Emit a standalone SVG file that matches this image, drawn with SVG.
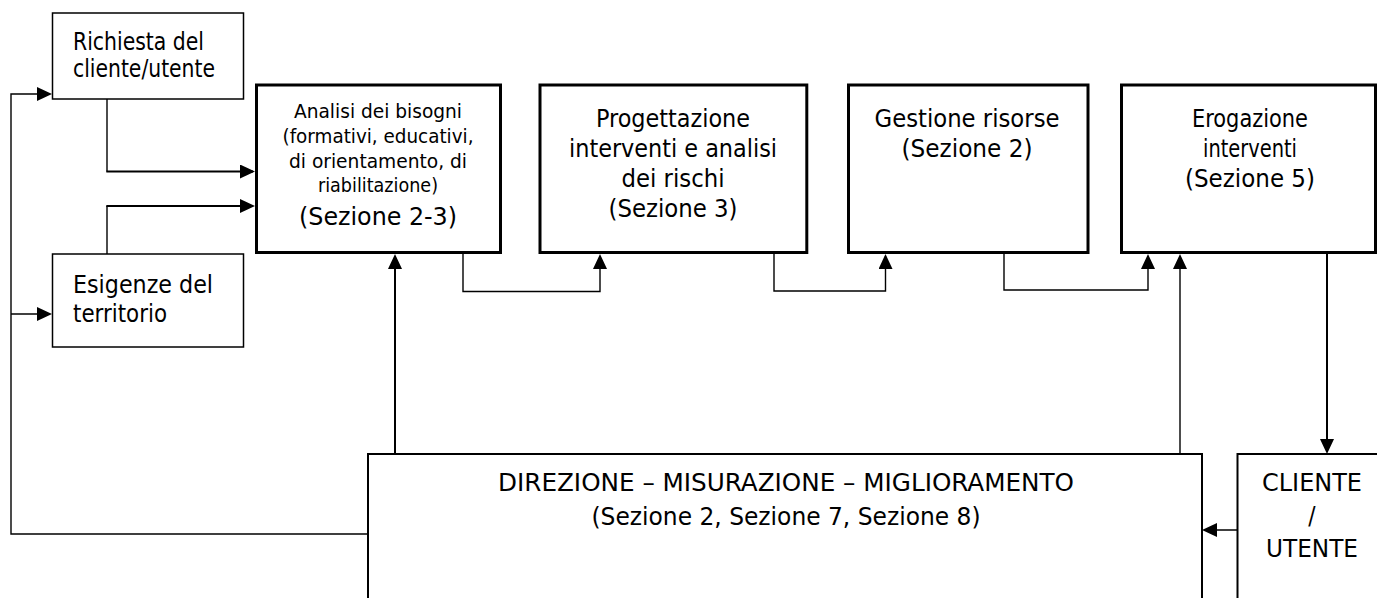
<svg xmlns="http://www.w3.org/2000/svg" width="1377" height="598" viewBox="0 0 1377 598">
<style>
  .bg{fill:#fff}
  .thin{fill:#fff;stroke:#000;stroke-width:1.5}
  .thick{fill:#fff;stroke:#000;stroke-width:3}
  .mid{fill:#fff;stroke:#000;stroke-width:2}
  .c{fill:none;stroke:#000;stroke-width:1.4}
  .c2{fill:none;stroke:#000;stroke-width:2}
  text{font-family:"DejaVu Sans Condensed","DejaVu Sans",sans-serif;font-stretch:condensed;fill:#000;font-size:24px}
  .m{text-anchor:middle}
  .s{font-size:20px}
</style>
<defs>
  <marker id="ah" viewBox="0 0 15 14" refX="13" refY="7" markerWidth="15" markerHeight="14" markerUnits="userSpaceOnUse" orient="auto">
    <path d="M0,0 L15,7 L0,14 z" fill="#000"/>
  </marker>
</defs>
<rect class="bg" x="0" y="0" width="1377" height="598"/>

<g id="connectors">
  <path class="c" d="M368,534 H11 V94 H50" marker-end="url(#ah)"/>
  <path class="c" d="M11,314 H50" marker-end="url(#ah)"/>
  <path class="c" d="M107,99 V171.5"/>
  <path class="c2" d="M106.3,171.5 H253" marker-end="url(#ah)"/>
  <path class="c" d="M107,254 V206"/>
  <path class="c2" d="M106.3,206 H253" marker-end="url(#ah)"/>
  <path class="c2" d="M395,454 V256" marker-end="url(#ah)"/>
  <path class="c" d="M463,254 V291.5 H600 V256" marker-end="url(#ah)"/>
  <path class="c" d="M774,254 V291 H885.5 V256" marker-end="url(#ah)"/>
  <path class="c" d="M1004,254 V290 H1148 V256" marker-end="url(#ah)"/>
  <path class="c" d="M1180,454 V256" marker-end="url(#ah)"/>
  <path class="c2" d="M1327,254 V452" marker-end="url(#ah)"/>
  <path class="c" d="M1237,530 H1204" marker-end="url(#ah)"/>
</g>

<g id="richiesta">
  <rect class="thin" x="52.5" y="13" width="191" height="86"/>
  <text x="73" y="50" textLength="131" lengthAdjust="spacingAndGlyphs">Richiesta del</text>
  <text x="73" y="77" textLength="142" lengthAdjust="spacingAndGlyphs">cliente/utente</text>
</g>

<g id="esigenze">
  <rect class="thin" x="52.5" y="254" width="191" height="93"/>
  <text x="73" y="293" textLength="140" lengthAdjust="spacingAndGlyphs">Esigenze del</text>
  <text x="73" y="322" textLength="94" lengthAdjust="spacingAndGlyphs">territorio</text>
</g>

<g id="analisi">
  <rect class="thick" x="256.5" y="85" width="244" height="167.5"/>
  <text class="m s" x="378" y="118" textLength="168" lengthAdjust="spacingAndGlyphs">Analisi dei bisogni</text>
  <text class="m s" x="378" y="143" textLength="191" lengthAdjust="spacingAndGlyphs">(formativi, educativi,</text>
  <text class="m s" x="378" y="168" textLength="178" lengthAdjust="spacingAndGlyphs">di orientamento, di</text>
  <text class="m s" x="378" y="192" textLength="120" lengthAdjust="spacingAndGlyphs">riabilitazione)</text>
  <text class="m" x="378" y="225" textLength="158" lengthAdjust="spacingAndGlyphs">(Sezione 2-3)</text>
</g>

<g id="progettazione">
  <rect class="thick" x="540" y="85" width="266.8" height="167.5"/>
  <text class="m" x="673" y="127" textLength="154" lengthAdjust="spacingAndGlyphs">Progettazione</text>
  <text class="m" x="673" y="157" textLength="208" lengthAdjust="spacingAndGlyphs">interventi e analisi</text>
  <text class="m" x="673" y="187" textLength="103" lengthAdjust="spacingAndGlyphs">dei rischi</text>
  <text class="m" x="673" y="217" textLength="129" lengthAdjust="spacingAndGlyphs">(Sezione 3)</text>
</g>

<g id="gestione">
  <rect class="thick" x="848.5" y="85" width="239.5" height="167.5"/>
  <text class="m" x="967" y="127" textLength="185" lengthAdjust="spacingAndGlyphs">Gestione risorse</text>
  <text class="m" x="967" y="157" textLength="131" lengthAdjust="spacingAndGlyphs">(Sezione 2)</text>
</g>

<g id="erogazione">
  <rect class="thick" x="1121.5" y="85" width="254" height="167.5"/>
  <text class="m" x="1250" y="127" textLength="116" lengthAdjust="spacingAndGlyphs">Erogazione</text>
  <text class="m" x="1250" y="157" textLength="94" lengthAdjust="spacingAndGlyphs">interventi</text>
  <text class="m" x="1250" y="187" textLength="130" lengthAdjust="spacingAndGlyphs">(Sezione 5)</text>
</g>

<g id="direzione">
  <rect class="mid" x="368" y="454" width="834" height="200"/>
  <text class="m" x="786" y="491" textLength="576" lengthAdjust="spacingAndGlyphs">DIREZIONE – MISURAZIONE – MIGLIORAMENTO</text>
  <text class="m" x="786" y="525" textLength="389" lengthAdjust="spacingAndGlyphs">(Sezione 2, Sezione 7, Sezione 8)</text>
</g>

<g id="cliente">
  <rect class="mid" x="1237.5" y="454" width="200" height="200"/>
  <text class="m" x="1312" y="491" textLength="100" lengthAdjust="spacingAndGlyphs">CLIENTE</text>
  <text class="m" x="1312" y="524">/</text>
  <text class="m" x="1312" y="557" textLength="92" lengthAdjust="spacingAndGlyphs">UTENTE</text>
</g>
</svg>
